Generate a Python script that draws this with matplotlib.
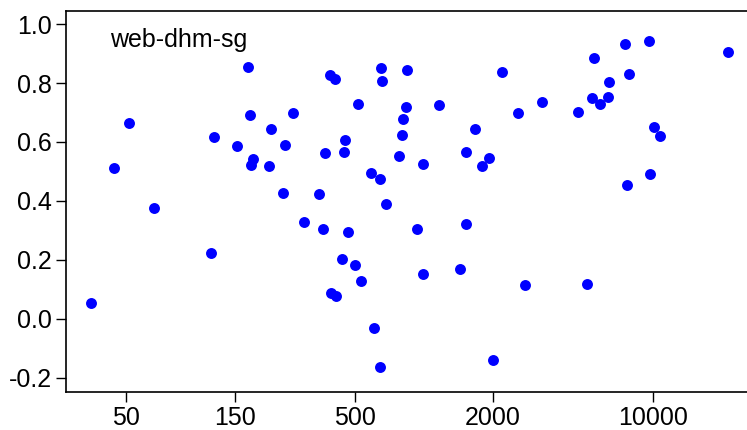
import matplotlib
matplotlib.use('Agg')
import matplotlib.pyplot as plt
from matplotlib.ticker import FixedLocator, NullLocator
import numpy as np

# values (x on log scale)
size = [35.3, 44.4, 51.5, 66.5, 117.6, 121.2, 152.2, 171.1, 174.6, 179.9,
        176.4, 210.1, 214.4, 243.3, 247.5, 269.1, 299.7, 349.5, 361.6, 369.0,
        389.2, 409.3, 394.3, 413.4, 439.0, 448.0, 452.5, 467.9, 500.5, 514.3,
        533.3, 589.6, 605.9, 641.7, 645.6, 652.1, 658.7, 683.7, 779.3, 800.7,
        808.7, 836.0, 842.0, 933.9, 989.0, 995.0, 1165, 1444, 1525, 1525,
        1669, 1801, 1920, 2012, 2202, 2572, 2767, 3294, 4732, 5149,
        5430, 5541, 5886, 6359, 6463, 7568, 7698, 7855, 9634, 9703,
        10163, 10762, 21400]
corr = [0.052, 0.513, 0.666, 0.375, 0.223, 0.618, 0.587, 0.854, 0.693, 0.542,
        0.522, 0.519, 0.643, 0.428, 0.590, 0.700, 0.328, 0.425, 0.304, 0.563,
        0.828, 0.813, 0.086, 0.077, 0.202, 0.566, 0.606, 0.294, 0.182, 0.728,
        0.127, 0.494, -0.032, 0.476, -0.163, 0.852, 0.807, 0.389, 0.553, 0.624,
        0.677, 0.718, 0.845, 0.304, 0.525, 0.152, 0.726, 0.168, 0.566, 0.323,
        0.643, 0.519, 0.547, -0.140, 0.839, 0.700, 0.114, 0.737, 0.702, 0.117,
        0.749, 0.886, 0.729, 0.752, 0.805, 0.933, 0.454, 0.830, 0.944, 0.492,
        0.650, 0.621, 0.907]

x_ticks = [50, 150, 500, 2000, 10000]
y_ticks = [-0.2, 0.0, 0.2, 0.4, 0.6, 0.8, 1.0]
label = 'web-dhm-sg'

plt.rcParams['font.family'] = ['Liberation Sans', 'DejaVu Sans']

fig = plt.figure(figsize=(7.47, 4.30), dpi=100)
ax = fig.add_axes([0.0884, 0.0884, 0.9116, 0.8868])

ax.scatter(size, corr, s=62, color='#0000ff', linewidths=0, zorder=3)

ax.set_xscale('log')
ax.set_xlim(27.35, 25822)
ax.set_ylim(-0.249, 1.046)

ax.xaxis.set_major_locator(FixedLocator(x_ticks))
ax.xaxis.set_minor_locator(NullLocator())
ax.set_xticklabels([str(t) for t in x_ticks])
ax.set_yticks(y_ticks)
ax.set_yticklabels(['%.1f' % t for t in y_ticks])

ax.spines['right'].set_visible(False)
for s in ['left', 'bottom', 'top']:
    ax.spines[s].set_linewidth(1.2)
    ax.spines[s].set_color('black')
ax.tick_params(axis='both', which='major', length=7, width=1.0, labelsize=18, direction='out')
ax.tick_params(axis='y', pad=3)
ax.tick_params(axis='x', pad=3)

ax.text(0.0646, 0.905, label, transform=ax.transAxes, fontsize=18,
        ha='left', va='baseline')

fig.savefig('out.png', dpi=100)
